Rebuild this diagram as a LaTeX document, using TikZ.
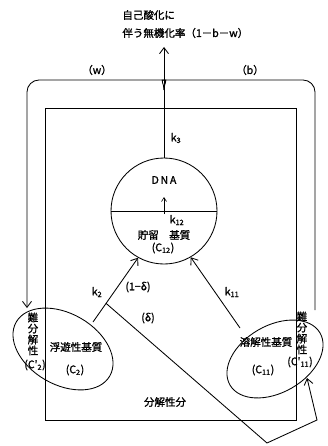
\documentclass[tikz,border=0pt]{standalone}
\usepackage{fontspec}
\newfontfamily\cjk[FakeBold=1.2]{Noto Sans CJK JP}
\usetikzlibrary{arrows.meta,shapes.geometric}
\begin{document}
\begin{tikzpicture}[x=1pt,y=-1pt,line width=0.85pt,
  lbl/.style={font=\cjk\fontsize{10.5}{11}\selectfont,inner sep=0pt,align=center},
  arr/.style={-{Straight Barb[length=6pt,width=9pt]}},
  sarr/.style={-{Straight Barb[length=4pt,width=5pt]},line width=0.6pt}]
\useasboundingbox (0,0) rectangle (327,446);
% main shapes
\node[draw,circle,minimum size=106pt,inner sep=0pt] (dna) at (164,211) {};
\draw (dna.west) -- (dna.east);
\node[draw,ellipse,minimum width=108pt,minimum height=71pt,inner sep=0pt,rotate=-30] (c2) at (63,349) {};
\node[draw,ellipse,minimum width=104pt,minimum height=67pt,inner sep=0pt,rotate=30] (c11) at (275,359) {};
\node[draw,minimum width=251pt,minimum height=312pt,inner sep=0pt] (box) at (170.5,264) {};
% coordinates
\coordinate (up) at (164,47);
\coordinate (cusp) at (164,90);
\coordinate (ltip) at (27,308);
\coordinate (rend) at (315,310);
\coordinate (s2) at (93,322);
\coordinate (s11) at (240,328);
\coordinate (d1) at (267,443);
\coordinate (d2) at (317,420);
\coordinate (d3) at (307,378);
\coordinate (ia) at (164,214);
\coordinate (ib) at (164,197);
% connectors
\draw[arr] (dna.north) -- (up);
\draw[arr,rounded corners=12pt] (cusp) .. controls (164,83) and (160,80) .. (152,80) -- (27,80) -- (ltip);
\draw[rounded corners=12pt] (cusp) .. controls (164,83) and (168,80) .. (176,80) -- (315,80) -- (rend);
\draw[arr] (s2) -- coordinate[pos=0.29] (br) (dna.241);
\draw[arr] (br) -- (d1) -- (d2) -- (d3);
\draw[arr] (s11) -- (dna.300);
\draw[sarr] (ia) -- (ib);
% labels
\node[lbl,anchor=west] (t1) at (122,15) {自己酸化に};
\node[lbl,anchor=west] (t2) at (122,33) {伴う無機化率（1－b－w）};
\node[lbl] (lw) at (97,70) {（w）};
\node[lbl] (lb) at (250,70) {（b）};
\node[lbl] (k3) at (176,138) {k\textsubscript{3}};
\node[lbl] (ldna) at (164,180) {D\,N\,A};
\node[lbl] (k12) at (177,220) {k\textsubscript{12}};
\node[lbl] (chozo) at (164,235) {貯留　基質};
\node[lbl] (lc12) at (163,248) {(C\textsubscript{12})};
\node[lbl] (k2) at (97,292) {k\textsubscript{2}};
\node[lbl] (ld1) at (138,287) {(1−δ)};
\node[lbl] (ld) at (148,318) {(δ)};
\node[lbl] (k11) at (232,292) {k\textsubscript{11}};
\node[lbl] (nl) at (33,334) {難\\分\\解\\性};
\node[lbl] (lc2p) at (35,365) {(C'\textsubscript{2})};
\node[lbl] (fuyu) at (76,347) {浮遊性基質};
\node[lbl] (lc2) at (75,370) {(C\textsubscript{2})};
\node[lbl] (yokai) at (266,342) {溶解性基質};
\node[lbl] (lc11) at (263,370) {(C\textsubscript{11})};
\node[lbl] (nr) at (302,333) {難\\分\\解\\性};
\node[lbl] (lc11p) at (300,362) {(C'\textsubscript{11})};
\node[lbl] (bunkai) at (165,402) {分解性分};
\end{tikzpicture}
\end{document}
